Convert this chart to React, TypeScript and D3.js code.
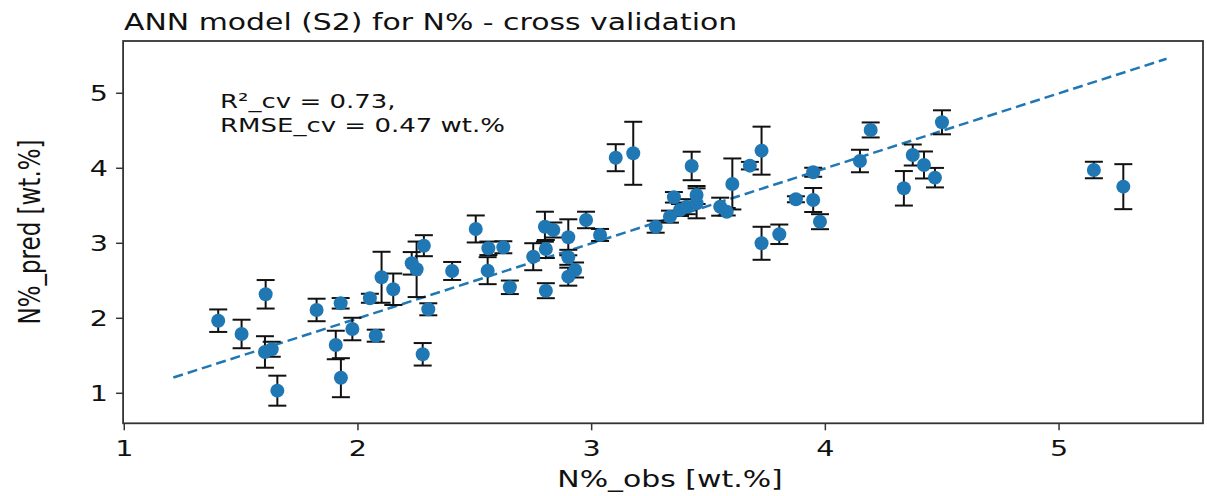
import React from "react";
import * as d3 from "d3";

const obs = [1.402, 1.502, 1.605, 1.602, 1.631, 1.655, 1.823, 1.926, 1.905, 1.927, 1.976, 2.051, 2.076, 2.101, 2.151, 2.23, 2.251, 2.301, 2.277, 2.403, 2.282, 2.504, 2.558, 2.622, 2.555, 2.65, 2.75, 2.804, 2.8, 2.836, 2.804, 2.9, 2.9, 2.929, 2.9, 2.976, 3.036, 3.103, 3.178, 3.274, 3.335, 3.352, 3.378, 3.407, 3.428, 3.449, 3.449, 3.55, 3.578, 3.602, 3.677, 3.727, 3.727, 3.803, 3.874, 3.948, 3.948, 3.977, 4.148, 4.194, 4.336, 4.374, 4.422, 4.469, 4.499, 5.149, 5.275];
const pred = [1.968, 1.791, 2.32, 1.551, 1.587, 1.035, 2.111, 2.2, 1.644, 1.208, 1.857, 2.267, 1.768, 2.547, 2.387, 2.733, 2.653, 2.12, 1.52, 2.631, 2.968, 3.191, 2.933, 2.947, 2.635, 2.413, 2.821, 2.924, 3.221, 3.177, 2.368, 3.08, 2.813, 2.644, 2.555, 3.311, 3.111, 4.141, 4.2, 3.221, 3.355, 3.613, 3.444, 3.488, 4.031, 3.644, 3.533, 3.488, 3.421, 3.791, 4.035, 4.235, 3.0, 3.12, 3.587, 3.947, 3.577, 3.288, 4.097, 4.511, 3.733, 4.177, 4.044, 3.875, 4.613, 3.977, 3.755];
const err = [0.15, 0.19, 0.19, 0.21, 0.1, 0.2, 0.15, 0.07, 0.19, 0.26, 0.15, 0.06, 0.08, 0.34, 0.21, 0.15, 0.37, 0.08, 0.15, 0.12, 0.14, 0.18, 0.09, 0.08, 0.18, 0.09, 0.18, 0.12, 0.2, 0.1, 0.1, 0.24, 0.1, 0.1, 0.12, 0.11, 0.08, 0.18, 0.42, 0.08, 0.08, 0.07, 0.08, 0.1, 0.19, 0.12, 0.2, 0.12, 0.05, 0.34, 0.05, 0.32, 0.22, 0.13, 0.04, 0.06, 0.16, 0.1, 0.15, 0.1, 0.23, 0.14, 0.18, 0.13, 0.16, 0.11, 0.3];
const identityLine = [1.21, 5.46];
const xTicks = [1, 2, 3, 4, 5];
const yTicks = [1, 2, 3, 4, 5];
const titleText = "ANN model (S2) for N% - cross validation";
const xLabel = "N%_obs [wt.%]";
const yLabel = "N%_pred [wt.%]";
const annot = ["R\u00b2_cv = 0.73,", "RMSE_cv = 0.47 wt.%"];

const BLUE = "#1f77b4";
const FONT = "DejaVu Sans";
const SX = 1.3;

function SText(props: { x: number; y: number; size: number; anchor?: string; children: string; rotate?: boolean; fill?: string }) {
  const { x, y, size, anchor = "start", children, rotate, fill = "#111" } = props;
  const tf = rotate ? `translate(${x},${y}) rotate(-90) scale(1,${SX})` : `translate(${x},${y}) scale(${SX},1)`;
  return (
    <text transform={tf} fontFamily={FONT} fontSize={size} textAnchor={anchor as any} fill={fill}>
      {children}
    </text>
  );
}

export default function App() {
  const x = d3.scaleLinear().domain([0.995, 5.616]).range([123.1, 1203]);
  const y = d3.scaleLinear().domain([0.6, 5.697]).range([423.3, 41]);
  const [x0, x1] = x.range();
  const [yb, yt] = y.range();
  const cap = 9;
  return (
    <svg width={1207} height={496} style={{ position: "absolute", left: 0, top: 0, background: "#fff" }}>
      <rect x={0} y={0} width={1207} height={496} fill="#fff" />
      <line x1={x(identityLine[0])} y1={y(identityLine[0])} x2={x(identityLine[1])} y2={y(identityLine[1])} stroke={BLUE} strokeWidth={2.5} strokeDasharray="10,5" />
      {obs.map((o, i) => (
        <g key={"e" + i} stroke="#111" strokeWidth={2}>
          <line x1={x(o)} x2={x(o)} y1={y(pred[i] - err[i])} y2={y(pred[i] + err[i])} />
          <line x1={x(o) - cap} x2={x(o) + cap} y1={y(pred[i] - err[i])} y2={y(pred[i] - err[i])} />
          <line x1={x(o) - cap} x2={x(o) + cap} y1={y(pred[i] + err[i])} y2={y(pred[i] + err[i])} />
        </g>
      ))}
      {obs.map((o, i) => (
        <circle key={"c" + i} cx={x(o)} cy={y(pred[i])} r={7} fill={BLUE} />
      ))}
      <rect x={x0} y={yt} width={x1 - x0} height={yb - yt} fill="none" stroke="#333" strokeWidth={1.8} />
      {xTicks.map((t) => (
        <g key={"xt" + t}>
          <line x1={x(t)} x2={x(t)} y1={yb} y2={yb + 7} stroke="#333" strokeWidth={1.5} />
          <SText x={x(t)} y={455.5} size={22} anchor="middle">{String(t)}</SText>
        </g>
      ))}
      {yTicks.map((t) => (
        <g key={"yt" + t}>
          <line x1={x0 - 7} x2={x0} y1={y(t)} y2={y(t)} stroke="#333" strokeWidth={1.5} />
          <SText x={108} y={y(t) + 8} size={22} anchor="end">{String(t)}</SText>
        </g>
      ))}
      <SText x={124} y={30} size={23}>{titleText}</SText>
      <SText x={670} y={487} size={23} anchor="middle">{xLabel}</SText>
      <SText x={40} y={232} size={23} anchor="middle" rotate>{yLabel}</SText>
      <SText x={220} y={108} size={20}>{annot[0]}</SText>
      <SText x={220} y={132} size={20}>{annot[1]}</SText>
    </svg>
  );
}
